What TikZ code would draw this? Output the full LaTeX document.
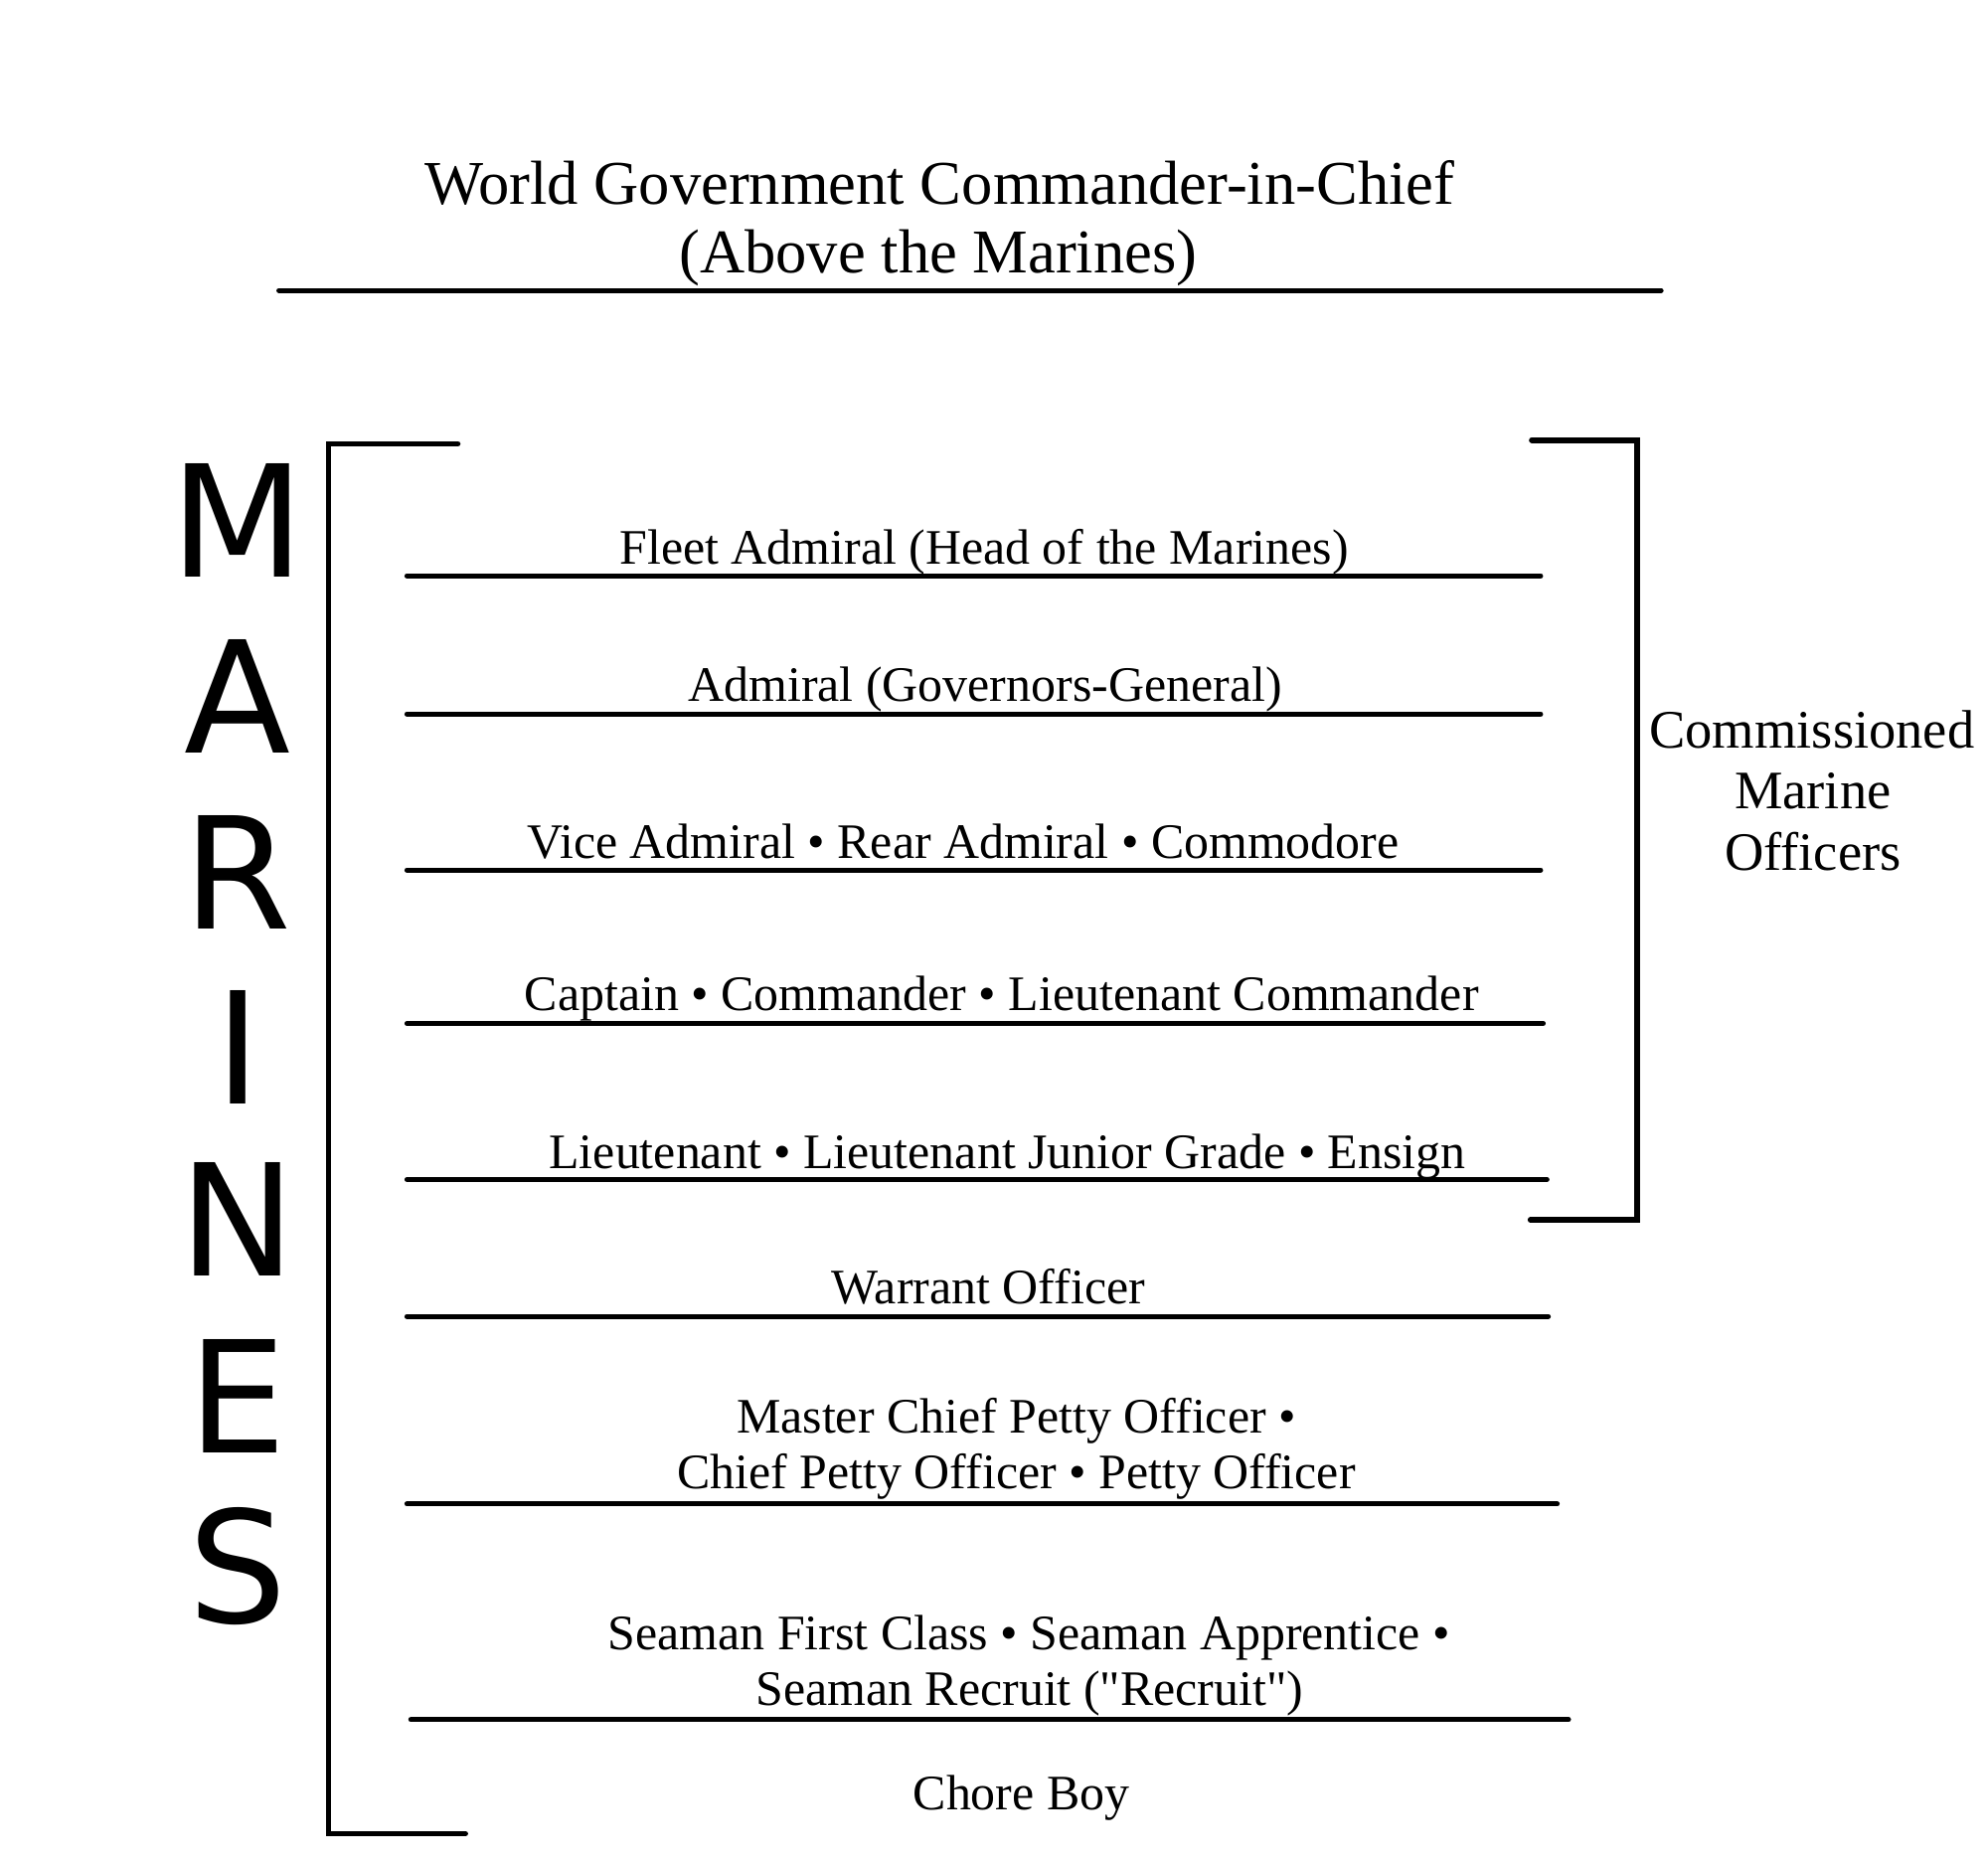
\documentclass[tikz,border=0pt]{standalone}
\usepackage{fontspec}
\setmainfont{Liberation Serif}[Ligatures=TeXOff]
\newfontfamily\marfont{DejaVu Sans}
\begin{document}
\begin{tikzpicture}[x=0.00995cm,y=-0.00995cm,
  rank/.style={font=\fontsize{14.2}{17}\selectfont, anchor=base, inner sep=0pt},
  ttl/.style={font=\fontsize{17.8}{21}\selectfont, anchor=base, inner sep=0pt},
  com/.style={font=\fontsize{15.5}{18}\selectfont, anchor=base, inner sep=0pt},
  big/.style={font=\marfont\fontsize{44.5}{50}\selectfont, anchor=center, inner sep=0pt},
  rule/.style={line width=1.45pt, line cap=round},
  brk/.style={line width=1.6pt, line cap=round, line join=miter}]
\useasboundingbox (0,0) rectangle (2010.05,1884.4);
% title
\node[ttl] (t1) at (950,206.4) {World Government Commander-in-Chief};
\node[ttl] (t2) at (948.7,275.6) {(Above the Marines)};
\draw[rule] (282,293.6) -- (1679.5,293.6);
% MARINES
\node[big] (m1) at (240.5,525.6) {M};
\node[big] (m2) at (240.5,703.8) {A};
\node[big] (m3) at (240.5,882) {R};
\node[big] (m4) at (240.5,1059) {I};
\node[big] (m5) at (240.5,1233) {N};
\node[big] (m6) at (240.5,1411.5) {E};
\node[big] (m7) at (240.5,1583) {S};
% left bracket
\draw[brk] (462.8,448.7) -- (332,448.7) -- (332,1853.8) -- (470.5,1853.8);
% right bracket
\draw[brk] (1548.7,444.9) -- (1655,444.9) -- (1655,1233.3) -- (1547.4,1233.3);
% Commissioned
\node[com] (c1) at (1832,756) {Commissioned};
\node[com] (c2) at (1833,818) {Marine};
\node[com] (c3) at (1833,879.5) {Officers};
% ranks
\node[rank] (r1) at (995,570.5) {Fleet Admiral (Head of the Marines)};
\draw[rule] (411.5,582.1) -- (1557.7,582.1);
\node[rank] (r2) at (996,709) {Admiral (Governors-General)};
\draw[rule] (411.5,721.8) -- (1557.7,721.8);
\node[rank] (r3) at (973.7,868) {Vice Admiral • Rear Admiral • Commodore};
\draw[rule] (411.5,879.5) -- (1557.7,879.5);
\node[rank] (r4) at (1012.8,1022) {Captain • Commander • Lieutenant Commander};
\draw[rule] (411.5,1034.6) -- (1560.3,1034.6);
\node[rank] (r5) at (1018.6,1181) {Lieutenant • Lieutenant Junior Grade • Ensign};
\draw[rule] (411.5,1192.3) -- (1564.1,1192.3);
\node[rank] (r6) at (999.4,1318) {Warrant Officer};
\draw[rule] (411.5,1330.8) -- (1565.4,1330.8);
\node[rank] (r7a) at (1027.6,1449) {Master Chief Petty Officer •};
\node[rank] (r7b) at (1027.6,1505) {Chief Petty Officer • Petty Officer};
\draw[rule] (411.5,1520.5) -- (1574.4,1520.5);
\node[rank] (r8a) at (1040.4,1668) {Seaman First Class • Seaman Apprentice •};
\node[rank] (r8b) at (1041,1724) {Seaman Recruit ("Recruit")};
\draw[rule] (415.4,1738.5) -- (1585.9,1738.5);
\node[rank] (r9) at (1032.7,1829.5) {Chore Boy};
\end{tikzpicture}
\end{document}
